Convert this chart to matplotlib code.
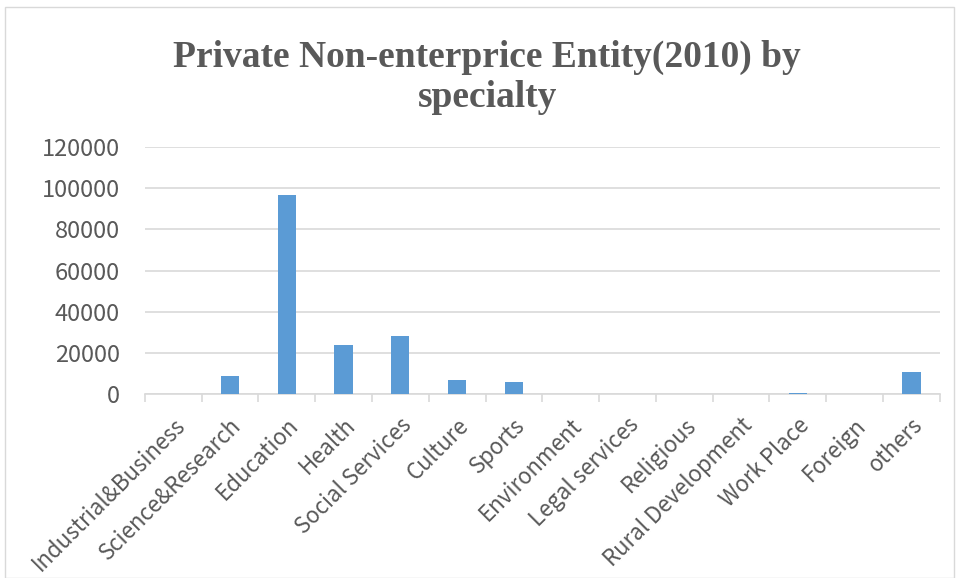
import matplotlib.pyplot as plt
import numpy as np
from matplotlib.patches import Rectangle

categories = ["Industrial&Business", "Science&Research", "Education", "Health",
              "Social Services", "Culture", "Sports", "Environment", "Legal services",
              "Religious", "Rural Development", "Work Place", "Foreign", "others"]
counts = [0, 8900, 96800, 23800, 28200, 6900, 5800, 0, 0, 0, 0, 800, 0, 10800]
yticks = [0, 20000, 40000, 60000, 80000, 100000, 120000]

fig = plt.figure(figsize=(9.59, 5.78), dpi=100)
ax = fig.add_axes([0.151, 0.318, 0.829, 0.428])

# outer chart border
fig.patches.append(Rectangle((0.005, 0.0), 0.99, 0.988, transform=fig.transFigure,
                             fill=False, edgecolor="#d9d9d9", linewidth=1))

lab_font = dict(family="Noto Sans CJK SC", fontweight="light", color="#595959", fontsize=16)

x = np.arange(len(categories))
ax.bar(x, counts, width=0.32, color="#5b9bd5", zorder=3)

ax.set_xlim(-0.5, len(categories) - 0.5)
ax.set_ylim(0, 120000)
ax.set_yticks(yticks)
ax.set_yticklabels([str(v) for v in yticks], fontsize=17,
                   **{k: v for k, v in lab_font.items() if k != "fontsize"})
ax.yaxis.grid(True, color="#d9d9d9", linewidth=1.2, zorder=0)
ax.tick_params(axis="y", length=0, pad=18)

ax.set_xticks(x)
ax.set_xticklabels(categories, rotation=45, ha="right", rotation_mode="anchor", **lab_font)
ax.tick_params(axis="x", which="major", length=0, pad=14)
ax.set_xticks(np.arange(-0.5, len(categories)), minor=True)
ax.tick_params(axis="x", which="minor", length=6, color="#d9d9d9", width=1.2)

for s in ["top", "right", "left"]:
    ax.spines[s].set_visible(False)
ax.spines["bottom"].set_color("#d9d9d9")
ax.spines["bottom"].set_linewidth(1.2)

fig.text(0.508, 0.866, "Private Non-enterprice Entity(2010) by\nspecialty",
         ha="center", va="center", fontsize=27, fontweight="bold",
         color="#595959", family="Liberation Serif", linespacing=1.15)

fig.savefig("out.png", dpi=100)
